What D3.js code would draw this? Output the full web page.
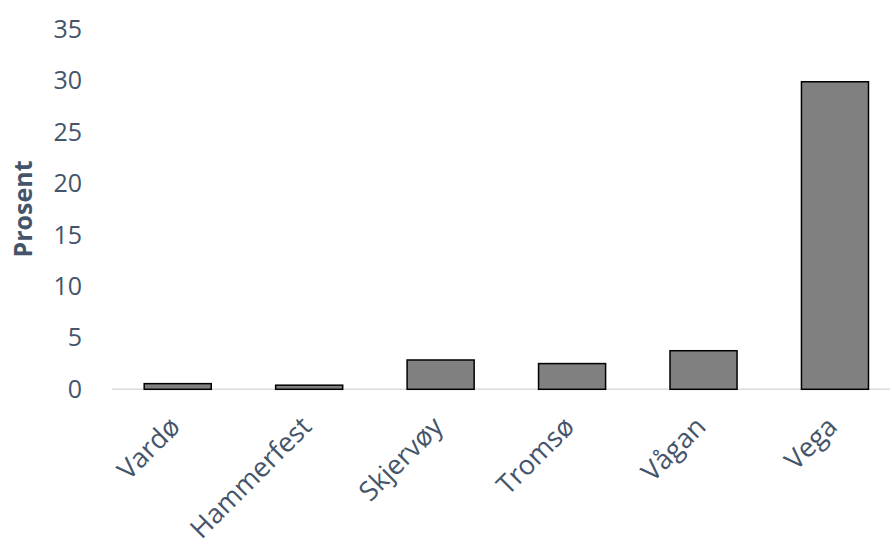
<!DOCTYPE html>
<html>
<head>
<meta charset="utf-8">
<script src="https://cdn.jsdelivr.net/npm/d3@7"></script>
<style>
  html, body { margin: 0; padding: 0; background: #fff; }
  svg { display: block; }
</style>
</head>
<body>
<svg id="chart" width="892" height="547"></svg>
<script>
// Share (percent) per municipality
const categories = ["Vardø", "Hammerfest", "Skjervøy", "Tromsø", "Vågan", "Vega"];
const values = [0.55, 0.4, 2.85, 2.5, 3.75, 29.9];
const yTicks = [0, 5, 10, 15, 20, 25, 30, 35];
const yLabel = "Prosent";

const textColor = "#44546a";
const font = "'Open Sans', 'DejaVu Sans', sans-serif";

const svg = d3.select("#chart");

const x = d3.scaleBand()
  .domain(categories)
  .range([112, 900.7])
  .paddingInner(0.49)
  .paddingOuter(0.245);

const y = d3.scaleLinear()
  .domain([0, 35])
  .range([389.3, 29.3]);

// baseline
svg.append("line")
  .attr("x1", 112).attr("x2", 890)
  .attr("y1", y(0)).attr("y2", y(0))
  .attr("stroke", "#d9dce1")
  .attr("stroke-width", 1.5);

// bars
svg.append("g")
  .selectAll("rect")
  .data(values)
  .join("rect")
  .attr("x", (d, i) => x(categories[i]))
  .attr("width", x.bandwidth())
  .attr("y", d => y(d))
  .attr("height", d => y(0) - y(d))
  .attr("fill", "#808080")
  .attr("stroke", "#000")
  .attr("stroke-width", 1.5);

// y axis (labels only)
const yAxis = d3.axisLeft(y).tickValues(yTicks).tickSize(0).tickPadding(0);
const yg = svg.append("g")
  .attr("transform", "translate(82,0)")
  .call(yAxis);
yg.select(".domain").remove();
yg.selectAll("text")
  .attr("fill", textColor)
  .style("font-family", font)
  .style("font-size", "25px");

// x axis labels
const xAxis = d3.axisBottom(x).tickSize(0).tickPadding(0);
const xg = svg.append("g")
  .attr("transform", `translate(0,${y(0)})`)
  .call(xAxis);
xg.select(".domain").remove();
xg.selectAll("text")
  .attr("fill", textColor)
  .style("font-family", font)
  .style("font-size", "27px")
  .attr("text-anchor", "end")
  .attr("dy", null)
  .attr("y", 0)
  .attr("transform", "translate(4,39) rotate(-45)");

// y axis title
svg.append("text")
  .attr("transform", "translate(32,209) rotate(-90)")
  .attr("text-anchor", "middle")
  .attr("fill", textColor)
  .style("font-family", font)
  .style("font-size", "25px")
  .style("font-weight", "bold")
  .text(yLabel);
</script>
</body>
</html>
